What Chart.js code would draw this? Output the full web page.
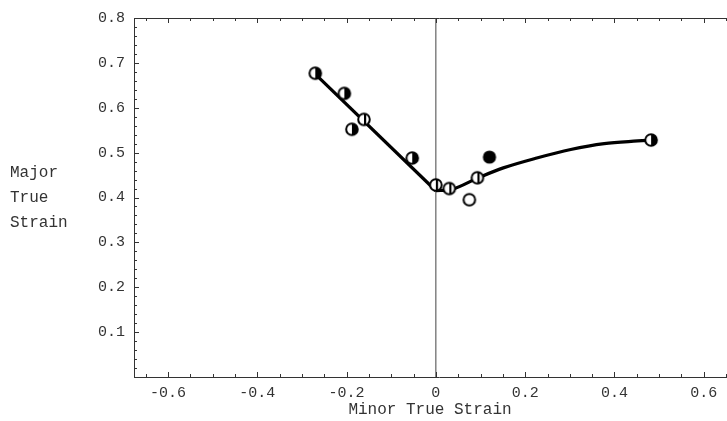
<!DOCTYPE html>
<html>
<head>
<meta charset="utf-8">
<title>Major vs Minor True Strain</title>
<script src="https://cdn.jsdelivr.net/npm/chart.js@4.4.0/dist/chart.umd.min.js"></script>
<style>
    html, body { margin: 0; padding: 0; background: #fff; overflow: hidden; width: 727px; height: 421px; }
    #grafico { display: block; }
</style>
</head>
<body>
<canvas id="grafico" width="752" height="421"></canvas>
<script>
// measured points (minor strain, major strain) and the kind of marker
var minorStrain = [-0.270, -0.205, -0.161, -0.188, -0.053, 0.000, 0.030, 0.093, 0.075, 0.120, 0.482];
var majorStrain = [0.677, 0.632, 0.574, 0.552, 0.488, 0.428, 0.420, 0.444, 0.395, 0.490, 0.528];
var markerKinds = ['half', 'half', 'bar', 'half', 'half', 'bar', 'bar', 'bar', 'open', 'filled', 'half'];

// fitted curves
var leftFitX = [-0.270, 0.000];
var leftFitY = [0.675, 0.415];
var rightFitX = [0.000, 0.035, 0.095, 0.151, 0.226, 0.302, 0.377, 0.452, 0.482];
var rightFitY = [0.415, 0.418, 0.444, 0.466, 0.488, 0.507, 0.520, 0.526, 0.528];

// axis ticks and titles
var xTicks = [-0.6, -0.4, -0.2, 0, 0.2, 0.4, 0.6];
var yTicks = [0.1, 0.2, 0.3, 0.4, 0.5, 0.6, 0.7, 0.8];
var xTitle = 'Minor True Strain';
var yLabelLines = ['Major', 'True', 'Strain'];

var fuente = 'Liberation Mono, DejaVu Sans Mono, monospace';
var xMin = -0.676;
var xMax = 0.69;

function toPoints(xs, ys) {
    return xs.map(function (x, i) { return { x: x, y: ys[i] }; });
}

function crearMarcador(tipo) {
    var c = document.createElement('canvas');
    c.width = 16;
    c.height = 16;
    var ctx = c.getContext('2d');
    var r = 5.8;
    ctx.fillStyle = '#fff';
    ctx.beginPath();
    ctx.arc(8, 8, r, 0, Math.PI * 2);
    ctx.fill();
    ctx.fillStyle = '#000';
    if (tipo === 'filled') {
        ctx.beginPath();
        ctx.arc(8, 8, r + 0.8, 0, Math.PI * 2);
        ctx.fill();
        return c;
    }
    if (tipo === 'half') {
        ctx.beginPath();
        ctx.arc(8, 8, r, -Math.PI / 2, Math.PI / 2);
        ctx.closePath();
        ctx.fill();
    }
    if (tipo === 'bar') {
        ctx.fillRect(8, 8 - r, 2.2, r * 2);
    }
    ctx.strokeStyle = '#000';
    ctx.lineWidth = 2;
    ctx.beginPath();
    ctx.arc(8, 8, r, 0, Math.PI * 2);
    ctx.stroke();
    return c;
}

// inward tick marks and the axis titles
var marcasPlugin = {
    id: 'marcas',
    afterDraw: function (chart) {
        var ctx = chart.ctx;
        var a = chart.chartArea;
        var sx = chart.scales.x;
        var sy = chart.scales.y;
        ctx.save();
        ctx.strokeStyle = '#333';
        ctx.lineWidth = 1;
        ctx.beginPath();
        for (var i = -13; i <= 13; i++) {
            var v = i * 0.05;
            var px = Math.round(sx.getPixelForValue(v)) + 0.5;
            if (px < a.left || px > a.right) continue;
            var len = (i % 4 === 0) ? 5 : 3;
            ctx.moveTo(px, a.bottom);
            ctx.lineTo(px, a.bottom - len);
            ctx.moveTo(px, a.top);
            ctx.lineTo(px, a.top + len);
        }
        for (var j = 1; j <= 40; j++) {
            var py = Math.round(sy.getPixelForValue(j * 0.02)) + 0.5;
            var l2 = (j % 5 === 0) ? 5 : 3;
            ctx.moveTo(a.left, py);
            ctx.lineTo(a.left + l2, py);
        }
        ctx.stroke();

        ctx.fillStyle = '#333';
        ctx.font = '16px ' + fuente;
        ctx.textBaseline = 'middle';
        ctx.textAlign = 'center';
        ctx.fillText(xTitle, 430, 410);
        ctx.textAlign = 'left';
        var cy = sy.getPixelForValue(0.4);
        yLabelLines.forEach(function (t, k) {
            ctx.fillText(t, 10, cy - 25 + k * 25);
        });
        ctx.restore();
    }
};

function cargarGrafico() {
    var ctx = document.getElementById('grafico').getContext('2d');
    var marcadores = markerKinds.map(crearMarcador);

    new Chart(ctx, {
        type: 'scatter',
        data: {
            datasets: [
                {
                    data: toPoints(minorStrain, majorStrain),
                    pointStyle: marcadores,
                    pointRadius: 7,
                    order: 0
                },
                {
                    data: toPoints(leftFitX, leftFitY),
                    showLine: true,
                    borderColor: '#000',
                    borderWidth: 3.2,
                    pointRadius: 0,
                    order: 1
                },
                {
                    data: toPoints(rightFitX, rightFitY),
                    showLine: true,
                    cubicInterpolationMode: 'monotone',
                    borderColor: '#000',
                    borderWidth: 3.2,
                    pointRadius: 0,
                    order: 2
                },
                {
                    data: [{ x: 0, y: 0 }, { x: 0, y: 0.8 }],
                    showLine: true,
                    borderColor: '#444',
                    borderWidth: 1,
                    pointRadius: 0,
                    order: 3
                }
            ]
        },
        options: {
            responsive: false,
            animation: false,
            layout: { padding: 0 },
            plugins: {
                legend: { display: false },
                tooltip: { enabled: false }
            },
            scales: {
                x: {
                    type: 'linear',
                    position: 'bottom',
                    min: xMin,
                    max: xMax,
                    grid: { display: false, drawTicks: false },
                    border: { display: true, color: '#333', width: 1 },
                    afterBuildTicks: function (s) {
                        s.ticks = xTicks.map(function (v) { return { value: v }; });
                    },
                    afterFit: function (s) { s.height = 44; },
                    ticks: {
                        padding: 7,
                        maxRotation: 0,
                        color: '#333',
                        font: { family: fuente, size: 15 },
                        callback: function (v) { return v === 0 ? '0' : v.toFixed(1); }
                    }
                },
                xTop: {
                    type: 'linear',
                    position: 'top',
                    min: xMin,
                    max: xMax,
                    grid: { display: false, drawTicks: false },
                    border: { display: true, color: '#333', width: 1 },
                    ticks: { display: false },
                    afterFit: function (s) { s.height = 17; }
                },
                y: {
                    type: 'linear',
                    position: 'left',
                    min: 0,
                    max: 0.8,
                    grid: { display: false, drawTicks: false },
                    border: { display: true, color: '#333', width: 1 },
                    afterBuildTicks: function (s) {
                        s.ticks = yTicks.map(function (v) { return { value: v }; });
                    },
                    afterFit: function (s) { s.width = 134; },
                    ticks: {
                        padding: 9,
                        color: '#333',
                        font: { family: fuente, size: 15 },
                        callback: function (v) { return v.toFixed(1); }
                    }
                }
            }
        },
        plugins: [marcasPlugin]
    });
}

window.onload = function () {
    try {
        cargarGrafico();
    } catch (e) {
        console.log('no se pudo cargar el grafico: ' + e);
    }
};
</script>
</body>
</html>
